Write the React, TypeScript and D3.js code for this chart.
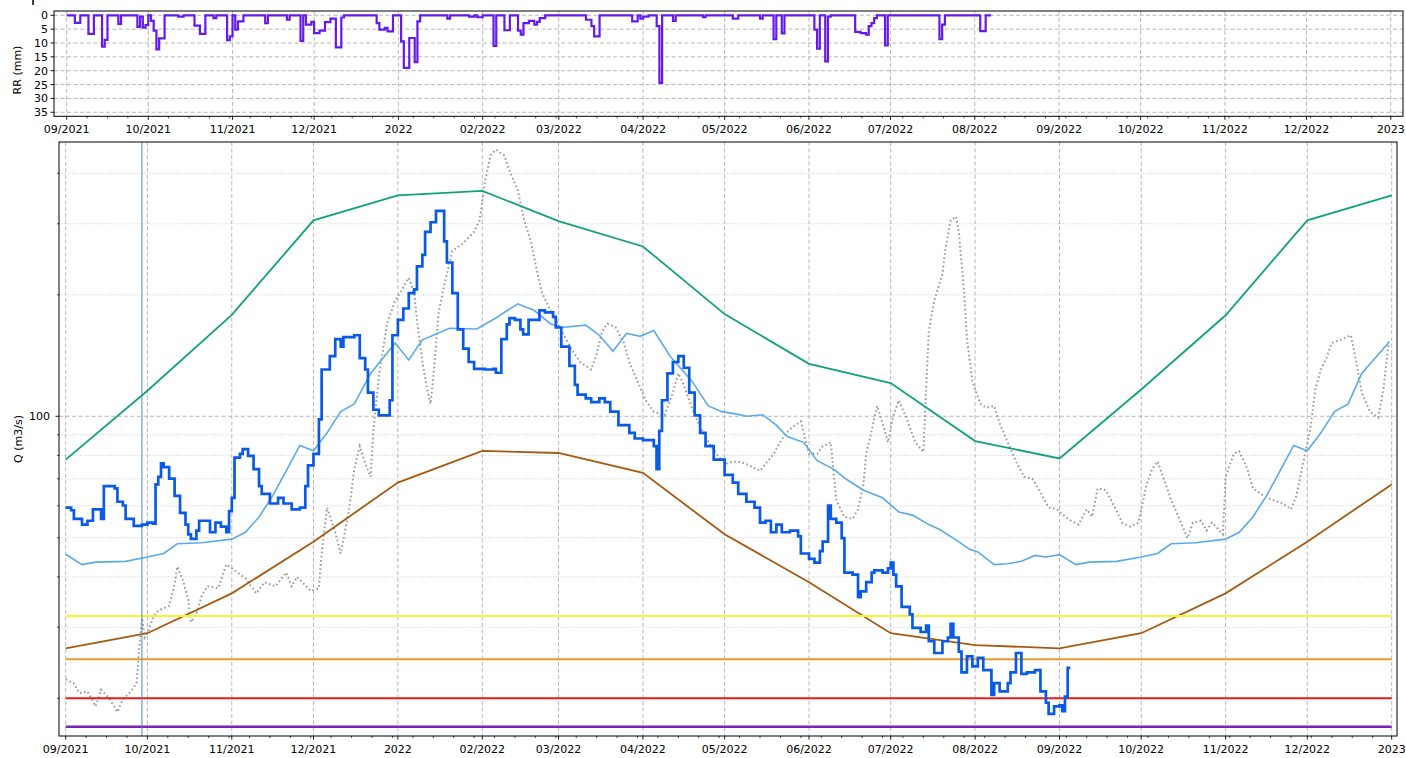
import React from 'react';
import * as d3 from 'd3';

// ---------- DATA ----------
// day index = days since 2021-09-01
const START = Date.UTC(2021, 8, 1);
const day = (d: number) => new Date(START + d * 86400000);

const monthTickLabels = ['09/2021', '10/2021', '11/2021', '12/2021', '2022', '02/2022', '03/2022', '04/2022', '05/2022', '06/2022', '07/2022', '08/2022', '09/2022', '10/2022', '11/2022', '12/2022', '2023'];
const rrTicks = [0, 5, 10, 15, 20, 25, 30, 35];
const qMajorTicks = [100];
const qMinorTicks = [20, 30, 40, 50, 60, 70, 80, 90, 200, 300, 400];

// monthly envelope values at the 1st of each month, 09/2021 .. 01/2023
const highQ = [78.1, 115.7, 178.4, 305.9, 352.6, 362, 304.6, 263.6, 179.2, 134.9, 120.9, 86.8, 78.6, 116.5, 178, 305.9, 352.6];
const lowQ = [26.6, 29.0, 36.4, 48.9, 68.5, 82.1, 81.1, 72.4, 51.0, 38.8, 29.0, 27.1, 26.6, 29.0, 36.4, 48.9, 67.8];

// threshold levels (m3/s)
const thresholdValues = [32, 25, 20, 17];

// marker day (vertical line)
const markerDay = 28;

// observed discharge [day, Q]
const observedQ: [number, number][] = [
  [0, 59.4], [2, 58.5], [3, 55.7], [6, 53.9], [8, 55.1], [10, 58.8], [13, 55.7], [14, 67.1], [18, 66.3], [19, 61.4], [21, 60.1], [22, 55.7], [25, 53.5], [28, 53.9], [30, 54.5], [32, 54.2], [33, 67.8], [34, 70.8], [35, 76.4], [36, 74.8], [38, 70.1], [40, 63.5], [42, 57.6], [44, 53.9], [45, 51.0], [46, 49.7], [48, 52.1], [49, 55.1], [53, 51.6], [55, 54.5], [57, 53.3], [59, 51.6], [60, 58.2], [61, 62.8], [62, 79], [64, 80.7], [65, 82.9], [67, 79.8], [69, 74], [71, 67.1], [72, 64.2], [75, 60.8], [78, 62.8], [80, 60.8], [83, 58.8], [86, 59.4], [88, 67.1], [89, 75.6], [91, 80.7], [93, 98.2], [94, 130.6], [97, 140.9], [99, 155.4], [101, 148.8], [102, 157.1], [106, 158.8], [108, 139.4], [110, 130.6], [111, 114.5], [113, 103.8], [115, 100.5], [119, 109.6], [120, 158.8], [122, 173.4], [124, 185], [126, 202], [128, 206.4], [129, 235.3], [131, 251.3], [132, 286.6], [134, 302.6], [136, 323], [139, 271.3], [140, 240.5], [142, 202], [144, 164.2], [146, 147.2], [148, 136.3], [150, 131.1], [154, 130.6], [157, 131.1], [158, 128.2], [160, 155.4], [162, 168.9], [163, 175.2], [165, 173.4], [167, 164.2], [168, 159.6], [170, 173.4], [174, 183.1], [176, 181], [179, 176.4], [180, 166], [182, 148.8], [185, 133.4], [187, 119.6], [188, 113.2], [191, 110.8], [193, 108.4], [196, 110.8], [198, 108.4], [200, 102.7], [203, 95.1], [207, 91], [209, 88.1], [212, 87.3], [216, 84.3], [217, 74], [218, 92], [219, 109.6], [221, 127.7], [223, 136.3], [225, 140.9], [227, 131.9], [229, 114.5], [231, 100.5], [233, 91], [235, 84.3], [238, 78.1], [242, 71.6], [245, 68.5], [247, 64.2], [250, 61.4], [253, 59.4], [255, 54.5], [257, 55.1], [259, 51.6], [261, 53.9], [263, 51.6], [266, 52.1], [269, 50.4], [270, 45.7], [273, 44.3], [275, 43.4], [277, 46.3], [278, 48.9], [280, 60.1], [281, 55.7], [283, 54.5], [285, 49.9], [286, 41], [289, 40.5], [291, 35.6], [292, 36.8], [294, 38.8], [296, 41], [297, 41.5], [300, 41], [302, 42], [303, 43.4], [304, 40.5], [305, 37.9], [307, 33.7], [310, 32.3], [311, 29.9], [314, 29.2], [316, 30.3], [317, 27.7], [319, 25.9], [322, 27.7], [324, 28.3], [325, 30.6], [326, 28.3], [328, 26.1], [329, 23.2], [331, 25.4], [333, 24], [335, 25.2], [337, 23.5], [340, 20.4], [341, 21.8], [343, 20.8], [346, 21.8], [347, 23.2], [349, 25.9], [351, 23], [353, 23.2], [356, 23.5], [358, 20.8], [360, 19.5], [361, 18.3], [363, 19.1], [365, 19.2], [366, 18.6], [367, 20.2], [368, 23.8], [369, 23.8],
];

// reference-year discharge (grey dotted) [day, Q]
const referenceQ: [number, number][] = [
  [0, 22.3], [3, 21.8], [5, 20.6], [8, 20.8], [11, 19.1], [13, 21], [16, 20], [19, 18.5], [21, 19.9], [24, 20.8], [26, 21.8], [27, 26.5], [28, 31.6], [29, 28.3], [30, 29], [32, 31.6], [34, 33], [38, 33.9], [40, 38.4], [41, 42.4], [43, 39.3], [45, 35.2], [46, 30.9], [48, 32.3], [50, 36], [52, 37.9], [56, 37.5], [59, 42.9], [62, 41.5], [66, 39.7], [70, 36.4], [73, 38.8], [77, 37.9], [81, 41], [83, 37.9], [85, 40], [90, 36.9], [93, 37.5], [94, 45.7], [96, 59.4], [99, 51.6], [101, 45.7], [104, 58.2], [106, 74], [108, 84.3], [110, 76.4], [112, 70.8], [113, 92], [115, 124.9], [118, 169.6], [121, 193.4], [123, 203], [126, 220.4], [128, 202], [129, 173.4], [131, 136.3], [133, 114.5], [134, 107.3], [135, 124.9], [137, 181.3], [139, 211], [142, 256.9], [146, 268.5], [150, 286.6], [152, 305.9], [154, 380.6], [156, 443.6], [158, 458.1], [161, 443.6], [163, 406.2], [166, 364.2], [168, 312.7], [171, 268.5], [173, 230.3], [175, 202], [178, 183.1], [180, 173.4], [183, 158.8], [186, 145.6], [189, 136.3], [193, 130.6], [195, 142.5], [197, 162.3], [199, 169.6], [202, 166], [205, 152], [207, 136.3], [210, 122.2], [213, 109.6], [216, 102.7], [220, 100.5], [223, 114.5], [225, 127.7], [227, 119.6], [230, 104.9], [233, 94.1], [237, 84.3], [240, 79], [243, 76.4], [245, 77.2], [248, 77], [251, 75.6], [255, 73.2], [260, 80.7], [264, 90], [267, 94.1], [270, 97.2], [273, 80.7], [276, 80.7], [278, 84.3], [281, 86.2], [283, 62.1], [286, 56.3], [289, 55.7], [291, 58.8], [293, 67.8], [294, 80.7], [296, 92], [298, 106.1], [300, 96.1], [302, 86.2], [304, 100.5], [306, 109.6], [309, 98.2], [312, 86.2], [315, 81.6], [316, 117], [317, 162.3], [319, 193.4], [322, 225.3], [323, 256.9], [325, 305.9], [327, 312.7], [328, 286.6], [330, 202], [331, 155.4], [333, 122.2], [336, 107.3], [338, 105], [341, 106.1], [343, 96.1], [346, 86.2], [349, 77.3], [352, 70.8], [355, 70.1], [358, 64.9], [361, 59.4], [364, 58.8], [368, 55.7], [372, 53.9], [375, 58.8], [377, 56.4], [379, 66.3], [382, 65.6], [385, 60.1], [388, 54.5], [391, 53.3], [394, 54.5], [397, 67.8], [399, 74], [401, 77.3], [403, 70.8], [406, 62.1], [409, 55.7], [412, 49.9], [414, 54.5], [417, 55.1], [419, 52.1], [421, 54.5], [425, 51], [426, 70.8], [429, 80.7], [431, 81.9], [434, 74], [436, 66.3], [440, 63.5], [443, 62.1], [447, 60.8], [450, 58.8], [452, 63.5], [454, 74], [457, 92], [459, 117], [461, 130.6], [463, 139.4], [465, 152], [469, 155.4], [472, 158.8], [474, 136.3], [476, 114.5], [479, 102.7], [482, 99.3], [484, 117], [486, 155.4],
];

// median discharge (light blue) [day, Q]
const medianQ: [number, number][] = [
  [0, 45.5], [6, 42.9], [11, 43.5], [22, 43.7], [30, 44.8], [36, 45.7], [41, 48.3], [50, 48.6], [61, 49.6], [66, 51.6], [71, 56.3], [76, 63.5], [81, 73.2], [86, 84.7], [91, 82.1], [96, 91], [101, 102.7], [106, 107.3], [112, 127.7], [121, 152], [126, 137.9], [131, 154.7], [141, 165.2], [151, 164.6], [158, 175.2], [166, 190], [172, 183.1], [178, 169.6], [182, 166], [191, 168.2], [196, 158.8], [201, 144.9], [206, 160.6], [211, 157.8], [216, 163.1], [222, 140.9], [230, 122.2], [236, 106.1], [241, 102.7], [247, 101.1], [250, 100], [256, 100.9], [261, 95.1], [265, 89.1], [271, 86.2], [276, 77.6], [282, 74], [287, 69.6], [293, 65.6], [300, 62.8], [306, 57.9], [311, 56.9], [317, 53.9], [321, 52.4], [327, 49.4], [332, 46.8], [335, 46.1], [341, 42.9], [346, 43.1], [351, 43.7], [356, 45.2], [360, 44.8], [365, 45.4], [371, 42.9], [376, 43.5], [386, 43.7], [395, 44.8], [401, 45.7], [406, 48.3], [415, 48.6], [426, 49.6], [431, 51.6], [436, 56.3], [441, 63.5], [446, 73.2], [451, 84.7], [456, 82.1], [461, 91], [466, 102.7], [471, 107.3], [476, 127.7], [486, 152.6],
];

// daily rainfall, step values starting at [day, mm]
const rainfall: [number, number][] = [
  [0, 0], [3, 2.7], [5, 0], [8, 6.7], [10, 0], [13, 11.3], [14, 8.9], [15, 0], [19, 3.1], [20, 0], [26, 4.2], [27, 0.5], [28, 4.5], [29, 3.5], [30, 0], [31, 2], [32, 5.5], [33, 12.3], [34, 8.3], [36, 0], [41, 0.5], [43, 0], [47, 3.7], [49, 6.7], [51, 0], [54, 1], [55, 0], [59, 9], [60, 7.6], [61, 0], [62, 5.2], [63, 2.2], [65, 0], [73, 2.8], [74, 0], [81, 1.6], [82, 0], [86, 9.2], [87, 0], [88, 3.4], [90, 2.4], [91, 6.4], [93, 5.5], [95, 2.5], [97, 1.2], [99, 11.6], [101, 0.8], [102, 0], [114, 2.8], [115, 5.2], [117, 4.5], [118, 5.8], [120, 0], [123, 9.4], [124, 19], [126, 8.2], [128, 16.9], [129, 2.2], [130, 0], [140, 1.2], [141, 0], [148, 0.5], [150, 0], [151, 0.7], [153, 0], [157, 11], [158, 0], [161, 5.4], [163, 0], [166, 5.5], [167, 7], [168, 2.8], [170, 2], [172, 3.4], [173, 2.4], [174, 1], [176, 0], [191, 1.6], [193, 3.9], [194, 7.6], [196, 0], [208, 2.2], [210, 0], [211, 1.2], [212, 0.5], [214, 0], [217, 3.9], [218, 24.4], [219, 0], [223, 2], [224, 0], [234, 0.7], [235, 0], [245, 1.2], [247, 0], [255, 1.2], [256, 0], [260, 8.6], [261, 0], [263, 6.5], [264, 0], [275, 5.2], [276, 12], [277, 0], [279, 16.6], [280, 0.5], [281, 0], [290, 6], [292, 6.4], [294, 7], [295, 3.9], [296, 2.8], [297, 1], [298, 0], [301, 10.9], [302, 0], [321, 8.6], [322, 3.4], [323, 0], [336, 5.7], [338, 0], [340, 0],
];

// ---------- STYLE ----------
const FONT = "'DejaVu Sans', sans-serif";
const thresholdColors = ['#f6f62c', '#e99c2e', '#e81a1a', '#7d1fc0'];
const GRID = '#b0b0b0';

const W = 1406;
const H = 758;

export default function App() {
  const monthDates = d3.utcMonth.range(day(0), day(488));

  const top = { l: 54, r: 1403, t: 11, b: 116.3 };
  const bot = { l: 59, r: 1397, t: 142, b: 736 };

  const xTop = d3.scaleUtc().domain([day(-4.67), day(491.5)]).range([top.l, top.r]);
  const xBot = d3.scaleUtc().domain([day(-2.46), day(488.95)]).range([bot.l, bot.r]);
  const yRain = d3.scaleLinear().domain([-1.55, 36.45]).range([top.t, top.b]);
  const yQ = d3.scaleLog().domain([16.13, 478.4]).range([bot.b, bot.t]);

  const qLine = d3.line<[number, number]>().x((p) => xBot(day(p[0]))).y((p) => yQ(p[1]));
  const qStep = d3.line<[number, number]>().x((p) => xBot(day(p[0]))).y((p) => yQ(p[1])).curve(d3.curveStepAfter);
  const rainStep = d3.line<[number, number]>().x((p) => xTop(day(p[0]))).y((p) => yRain(p[1])).curve(d3.curveStepAfter);
  const monthLine = d3.line<number>().x((_, i) => xBot(monthDates[i])).y((v) => yQ(v));

  // minor x ticks every 7.5 days, skipping those at major months
  const minorDays: number[] = [];
  for (let k = 0; k * 7.5 <= 490; k++) {
    const d = k * 7.5;
    const t = day(d).getTime();
    const near = monthDates.some((m) => Math.abs(m.getTime() - t) < 86400000 * 0.6);
    if (!near) minorDays.push(d);
  }

  const firstDay = day(0);
  const lastDay = monthDates[monthDates.length - 1];

  return (
    <svg width={W} height={H} style={{ position: 'absolute', left: 0, top: 0, background: '#fff' }} fontFamily={FONT}>
      <defs>
        <clipPath id="clipTop"><rect x={top.l} y={top.t} width={top.r - top.l} height={top.b - top.t} /></clipPath>
        <clipPath id="clipBot"><rect x={bot.l} y={bot.t} width={bot.r - bot.l} height={bot.b - bot.t} /></clipPath>
      </defs>
      <rect x={0} y={0} width={W} height={H} fill="#fff" />
      <line x1={33} x2={33} y1={0} y2={5} stroke="#000" strokeWidth={1.5} />

      {/* ---------- TOP PANEL (rainfall) ---------- */}
      <g>
        {rrTicks.map((v) => (
          <line key={'rg' + v} x1={top.l} x2={top.r} y1={yRain(v)} y2={yRain(v)} stroke={GRID} strokeWidth={0.9} strokeDasharray="4,2.5" />
        ))}
        {monthDates.map((m, i) => (
          <line key={'rv' + i} x1={xTop(m)} x2={xTop(m)} y1={top.t} y2={top.b} stroke={GRID} strokeWidth={0.9} strokeDasharray="4,2.5" />
        ))}
        <path d={rainStep(rainfall) || ''} fill="none" stroke="#6519ee" strokeWidth={2.2} clipPath="url(#clipTop)" strokeLinejoin="miter" />
        <rect x={top.l} y={top.t} width={top.r - top.l} height={top.b - top.t} fill="none" stroke="#000" strokeWidth={1} />
        {rrTicks.map((v) => (
          <g key={'rt' + v}>
            <line x1={top.l - 3.5} x2={top.l} y1={yRain(v)} y2={yRain(v)} stroke="#000" strokeWidth={0.9} />
            <text x={top.l - 6} y={yRain(v) + 4} fontSize={11} textAnchor="end" fill="#000">{v}</text>
          </g>
        ))}
        {monthDates.map((m, i) => (
          <g key={'rx' + i}>
            <line x1={xTop(m)} x2={xTop(m)} y1={top.b} y2={top.b + 3.5} stroke="#000" strokeWidth={0.9} />
            <text x={xTop(m)} y={top.b + 16.5} fontSize={11} textAnchor="middle" fill="#000">{monthTickLabels[i]}</text>
          </g>
        ))}
        {minorDays.map((d) => (
          <line key={'rm' + d} x1={xTop(day(d))} x2={xTop(day(d))} y1={top.b} y2={top.b + 2} stroke="#000" strokeWidth={0.7} />
        ))}
        <text transform={`translate(17,70) rotate(-90)`} fontSize={11} textAnchor="middle" dominantBaseline="central" fill="#000">RR (mm)</text>
      </g>

      {/* ---------- BOTTOM PANEL (discharge) ---------- */}
      <g>
        {qMinorTicks.map((v) => (
          <line key={'qg' + v} x1={bot.l} x2={bot.r} y1={yQ(v)} y2={yQ(v)} stroke="#c4c4c4" strokeWidth={0.8} strokeDasharray="1,1.6" />
        ))}
        {qMajorTicks.map((v) => (
          <line key={'qG' + v} x1={bot.l} x2={bot.r} y1={yQ(v)} y2={yQ(v)} stroke={GRID} strokeWidth={0.9} strokeDasharray="4,2.5" />
        ))}
        {monthDates.map((m, i) => (
          <line key={'qv' + i} x1={xBot(m)} x2={xBot(m)} y1={bot.t} y2={bot.b} stroke={GRID} strokeWidth={0.9} strokeDasharray="4,2.5" />
        ))}

        <g clipPath="url(#clipBot)">
          <path d={qLine(referenceQ) || ''} fill="none" stroke="#9a9a9a" strokeWidth={2} strokeDasharray="1.6,2.6" />
          <path d={qLine(medianQ) || ''} fill="none" stroke="#5aaaea" strokeWidth={1.6} />
          <path d={monthLine(highQ) || ''} fill="none" stroke="#12a27a" strokeWidth={1.8} />
          <path d={monthLine(lowQ) || ''} fill="none" stroke="#a65a10" strokeWidth={1.8} />
          {thresholdValues.map((v, i) => (
            <line key={'th' + v} x1={xBot(firstDay)} x2={xBot(lastDay)} y1={yQ(v)} y2={yQ(v)} stroke={thresholdColors[i]} strokeWidth={i === 3 ? 2.5 : 2.1} />
          ))}
          <line x1={xBot(day(markerDay))} x2={xBot(day(markerDay))} y1={bot.t} y2={bot.b} stroke="#4a8db8" strokeWidth={1} />
          <path d={qStep(observedQ) || ''} fill="none" stroke="#0a5ae8" strokeWidth={2.7} />
        </g>

        <rect x={bot.l} y={bot.t} width={bot.r - bot.l} height={bot.b - bot.t} fill="none" stroke="#000" strokeWidth={1} />
        {qMinorTicks.map((v) => (
          <line key={'qmt' + v} x1={bot.l - 2} x2={bot.l} y1={yQ(v)} y2={yQ(v)} stroke="#000" strokeWidth={0.7} />
        ))}
        {qMajorTicks.map((v) => (
          <g key={'qMt' + v}>
            <line x1={bot.l - 3.5} x2={bot.l} y1={yQ(v)} y2={yQ(v)} stroke="#000" strokeWidth={0.9} />
            <text x={bot.l - 9} y={yQ(v) + 4} fontSize={11} textAnchor="end" fill="#000">{v}</text>
          </g>
        ))}
        {monthDates.map((m, i) => (
          <g key={'qx' + i}>
            <line x1={xBot(m)} x2={xBot(m)} y1={bot.b} y2={bot.b + 3.5} stroke="#000" strokeWidth={0.9} />
            <text x={xBot(m)} y={bot.b + 16.5} fontSize={11} textAnchor="middle" fill="#000">{monthTickLabels[i]}</text>
          </g>
        ))}
        {minorDays.map((d) => (
          <line key={'qm' + d} x1={xBot(day(d))} x2={xBot(day(d))} y1={bot.b} y2={bot.b + 2} stroke="#000" strokeWidth={0.7} />
        ))}
        <text transform={`translate(18,439) rotate(-90)`} fontSize={11} textAnchor="middle" dominantBaseline="central" fill="#000">Q (m3/s)</text>
      </g>
    </svg>
  );
}
